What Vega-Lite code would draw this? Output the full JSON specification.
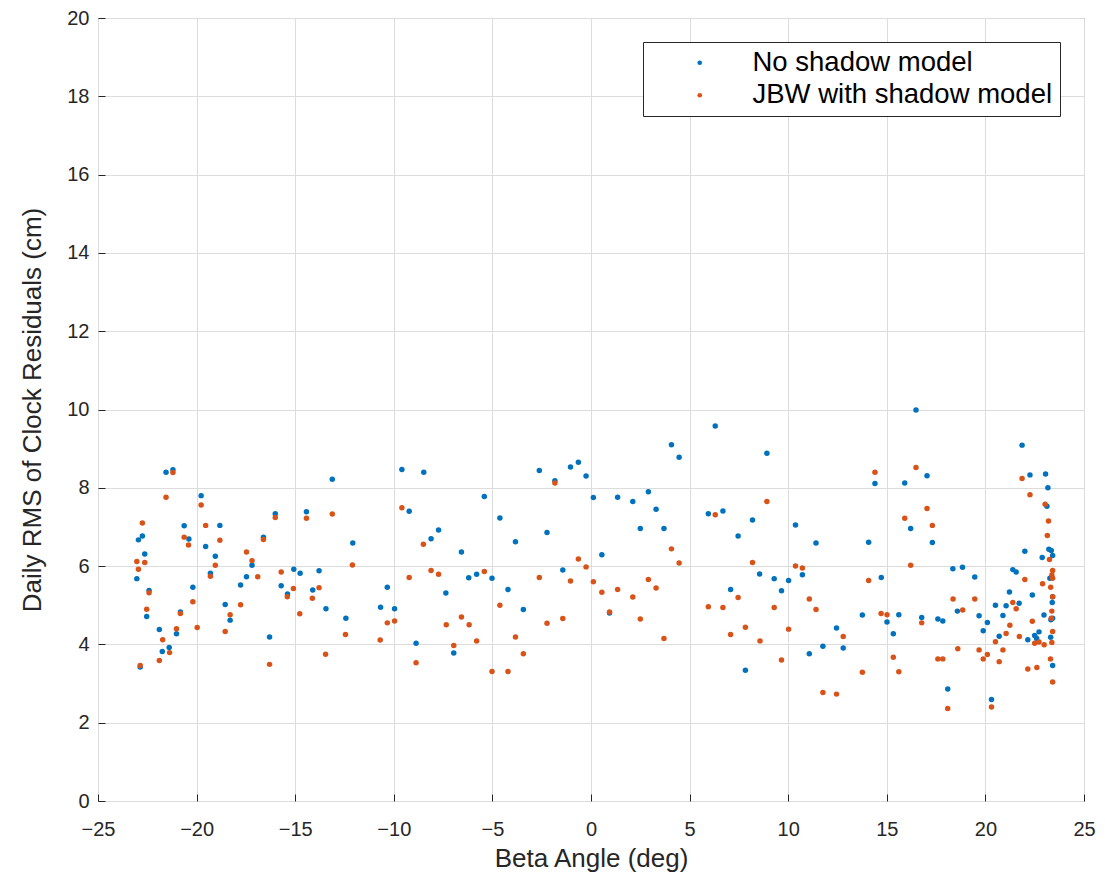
{
  "$schema": "https://vega.github.io/schema/vega-lite/v6.json",
  "width": 986,
  "height": 783,
  "autosize": {"type": "none"},
  "padding": {"left": 98, "top": 18, "right": 21, "bottom": 76},
  "background": "white",
  "config": {
    "view": {"stroke": "#262626", "strokeWidth": 1},
    "axis": {
      "grid": true,
      "gridColor": "#dcdcdc",
      "gridWidth": 1,
      "domain": false,
      "tickColor": "#262626",
      "tickSize": -7,
      "labelFlush": false,
      "labelOverlap": false,
      "labelFont": "Liberation Sans",
      "labelFontSize": 20,
      "labelColor": "#262626",
      "titleFont": "Liberation Sans",
      "titleFontSize": 26,
      "titleFontWeight": "normal",
      "titleColor": "#262626"
    },
    "legend": {
      "orient": "top-right",
      "offset": 24,
      "strokeColor": "#262626",
      "fillColor": "white",
      "padding": 7,
      "labelFont": "Liberation Sans",
      "labelFontSize": 27.5,
      "labelLimit": 0,
      "labelColor": "#000000",
      "symbolType": "circle",
      "symbolSize": 22,
      "symbolOffset": 36,
      "labelOffset": 39,
      "rowPadding": 3.5,
      "title": null
    }
  },
  "data": {
    "values": [
      {"b": -21.55, "r": 8.40, "s": "No shadow model"},
      {"b": -21.2, "r": 8.46, "s": "No shadow model"},
      {"b": -19.77, "r": 7.80, "s": "No shadow model"},
      {"b": -20.63, "r": 7.03, "s": "No shadow model"},
      {"b": -18.82, "r": 7.04, "s": "No shadow model"},
      {"b": -20.39, "r": 6.69, "s": "No shadow model"},
      {"b": -22.75, "r": 6.77, "s": "No shadow model"},
      {"b": -22.95, "r": 6.67, "s": "No shadow model"},
      {"b": -22.63, "r": 6.31, "s": "No shadow model"},
      {"b": -19.54, "r": 6.50, "s": "No shadow model"},
      {"b": -19.05, "r": 6.25, "s": "No shadow model"},
      {"b": -19.30, "r": 5.82, "s": "No shadow model"},
      {"b": -23.03, "r": 5.68, "s": "No shadow model"},
      {"b": -20.19, "r": 5.46, "s": "No shadow model"},
      {"b": -22.41, "r": 5.38, "s": "No shadow model"},
      {"b": -22.53, "r": 4.71, "s": "No shadow model"},
      {"b": -20.82, "r": 4.83, "s": "No shadow model"},
      {"b": -21.89, "r": 4.38, "s": "No shadow model"},
      {"b": -21.02, "r": 4.27, "s": "No shadow model"},
      {"b": -21.39, "r": 3.92, "s": "No shadow model"},
      {"b": -21.74, "r": 3.82, "s": "No shadow model"},
      {"b": -22.86, "r": 3.42, "s": "No shadow model"},
      {"b": -18.55, "r": 5.02, "s": "No shadow model"},
      {"b": -18.30, "r": 4.62, "s": "No shadow model"},
      {"b": -17.77, "r": 5.52, "s": "No shadow model"},
      {"b": -17.47, "r": 5.73, "s": "No shadow model"},
      {"b": -17.19, "r": 6.02, "s": "No shadow model"},
      {"b": -16.61, "r": 6.74, "s": "No shadow model"},
      {"b": -16.01, "r": 7.34, "s": "No shadow model"},
      {"b": -14.43, "r": 7.39, "s": "No shadow model"},
      {"b": -13.12, "r": 8.22, "s": "No shadow model"},
      {"b": -12.08, "r": 6.59, "s": "No shadow model"},
      {"b": -15.07, "r": 5.92, "s": "No shadow model"},
      {"b": -14.75, "r": 5.82, "s": "No shadow model"},
      {"b": -13.79, "r": 5.88, "s": "No shadow model"},
      {"b": -15.71, "r": 5.50, "s": "No shadow model"},
      {"b": -15.39, "r": 5.29, "s": "No shadow model"},
      {"b": -14.11, "r": 5.39, "s": "No shadow model"},
      {"b": -13.44, "r": 4.91, "s": "No shadow model"},
      {"b": -12.43, "r": 4.67, "s": "No shadow model"},
      {"b": -16.30, "r": 4.19, "s": "No shadow model"},
      {"b": -10.33, "r": 5.46, "s": "No shadow model"},
      {"b": -10.67, "r": 4.95, "s": "No shadow model"},
      {"b": -9.96, "r": 4.91, "s": "No shadow model"},
      {"b": -9.59, "r": 8.47, "s": "No shadow model"},
      {"b": -8.48, "r": 8.40, "s": "No shadow model"},
      {"b": -9.22, "r": 7.40, "s": "No shadow model"},
      {"b": -8.87, "r": 4.03, "s": "No shadow model"},
      {"b": -8.11, "r": 6.70, "s": "No shadow model"},
      {"b": -7.73, "r": 6.92, "s": "No shadow model"},
      {"b": -6.57, "r": 6.36, "s": "No shadow model"},
      {"b": -7.36, "r": 5.31, "s": "No shadow model"},
      {"b": -6.20, "r": 5.70, "s": "No shadow model"},
      {"b": -5.80, "r": 5.79, "s": "No shadow model"},
      {"b": -5.41, "r": 7.78, "s": "No shadow model"},
      {"b": -5.02, "r": 5.69, "s": "No shadow model"},
      {"b": -4.62, "r": 7.23, "s": "No shadow model"},
      {"b": -4.21, "r": 5.40, "s": "No shadow model"},
      {"b": -3.83, "r": 6.62, "s": "No shadow model"},
      {"b": -3.43, "r": 4.89, "s": "No shadow model"},
      {"b": -6.96, "r": 3.78, "s": "No shadow model"},
      {"b": -2.62, "r": 8.44, "s": "No shadow model"},
      {"b": -1.83, "r": 8.18, "s": "No shadow model"},
      {"b": -2.23, "r": 6.86, "s": "No shadow model"},
      {"b": -1.43, "r": 5.90, "s": "No shadow model"},
      {"b": -1.04, "r": 8.53, "s": "No shadow model"},
      {"b": -0.64, "r": 8.65, "s": "No shadow model"},
      {"b": -0.25, "r": 8.30, "s": "No shadow model"},
      {"b": 0.12, "r": 7.75, "s": "No shadow model"},
      {"b": 0.55, "r": 6.29, "s": "No shadow model"},
      {"b": 0.94, "r": 4.80, "s": "No shadow model"},
      {"b": 1.35, "r": 7.76, "s": "No shadow model"},
      {"b": 2.12, "r": 7.65, "s": "No shadow model"},
      {"b": 2.50, "r": 6.96, "s": "No shadow model"},
      {"b": 2.91, "r": 7.90, "s": "No shadow model"},
      {"b": 3.30, "r": 7.45, "s": "No shadow model"},
      {"b": 3.70, "r": 6.96, "s": "No shadow model"},
      {"b": 4.08, "r": 9.10, "s": "No shadow model"},
      {"b": 4.47, "r": 8.78, "s": "No shadow model"},
      {"b": 5.95, "r": 7.34, "s": "No shadow model"},
      {"b": 6.69, "r": 7.41, "s": "No shadow model"},
      {"b": 6.30, "r": 9.58, "s": "No shadow model"},
      {"b": 7.46, "r": 6.77, "s": "No shadow model"},
      {"b": 8.19, "r": 7.18, "s": "No shadow model"},
      {"b": 7.08, "r": 5.40, "s": "No shadow model"},
      {"b": 7.83, "r": 3.34, "s": "No shadow model"},
      {"b": 8.92, "r": 8.88, "s": "No shadow model"},
      {"b": 8.55, "r": 5.80, "s": "No shadow model"},
      {"b": 9.29, "r": 5.68, "s": "No shadow model"},
      {"b": 9.66, "r": 5.37, "s": "No shadow model"},
      {"b": 10.02, "r": 5.63, "s": "No shadow model"},
      {"b": 10.37, "r": 7.05, "s": "No shadow model"},
      {"b": 10.72, "r": 5.78, "s": "No shadow model"},
      {"b": 11.07, "r": 3.76, "s": "No shadow model"},
      {"b": 11.41, "r": 6.59, "s": "No shadow model"},
      {"b": 11.76, "r": 3.95, "s": "No shadow model"},
      {"b": 12.45, "r": 4.42, "s": "No shadow model"},
      {"b": 12.79, "r": 3.91, "s": "No shadow model"},
      {"b": 13.76, "r": 4.75, "s": "No shadow model"},
      {"b": 14.08, "r": 6.61, "s": "No shadow model"},
      {"b": 14.40, "r": 8.11, "s": "No shadow model"},
      {"b": 14.72, "r": 5.71, "s": "No shadow model"},
      {"b": 15.01, "r": 4.57, "s": "No shadow model"},
      {"b": 15.33, "r": 4.27, "s": "No shadow model"},
      {"b": 15.61, "r": 4.76, "s": "No shadow model"},
      {"b": 15.91, "r": 8.12, "s": "No shadow model"},
      {"b": 16.21, "r": 6.96, "s": "No shadow model"},
      {"b": 16.48, "r": 9.99, "s": "No shadow model"},
      {"b": 16.77, "r": 4.69, "s": "No shadow model"},
      {"b": 17.04, "r": 8.31, "s": "No shadow model"},
      {"b": 17.31, "r": 6.60, "s": "No shadow model"},
      {"b": 17.59, "r": 4.65, "s": "No shadow model"},
      {"b": 17.84, "r": 4.60, "s": "No shadow model"},
      {"b": 18.09, "r": 2.86, "s": "No shadow model"},
      {"b": 18.35, "r": 5.93, "s": "No shadow model"},
      {"b": 18.58, "r": 4.85, "s": "No shadow model"},
      {"b": 18.84, "r": 5.97, "s": "No shadow model"},
      {"b": 19.46, "r": 5.72, "s": "No shadow model"},
      {"b": 19.68, "r": 4.73, "s": "No shadow model"},
      {"b": 19.89, "r": 4.35, "s": "No shadow model"},
      {"b": 20.10, "r": 4.56, "s": "No shadow model"},
      {"b": 20.31, "r": 2.59, "s": "No shadow model"},
      {"b": 20.51, "r": 5.00, "s": "No shadow model"},
      {"b": 20.70, "r": 4.21, "s": "No shadow model"},
      {"b": 20.89, "r": 4.74, "s": "No shadow model"},
      {"b": 21.05, "r": 4.99, "s": "No shadow model"},
      {"b": 21.22, "r": 5.34, "s": "No shadow model"},
      {"b": 21.39, "r": 5.91, "s": "No shadow model"},
      {"b": 21.56, "r": 5.85, "s": "No shadow model"},
      {"b": 21.71, "r": 5.05, "s": "No shadow model"},
      {"b": 21.86, "r": 9.09, "s": "No shadow model"},
      {"b": 22.00, "r": 6.38, "s": "No shadow model"},
      {"b": 22.15, "r": 4.12, "s": "No shadow model"},
      {"b": 22.26, "r": 8.33, "s": "No shadow model"},
      {"b": 22.38, "r": 5.26, "s": "No shadow model"},
      {"b": 22.50, "r": 4.23, "s": "No shadow model"},
      {"b": 22.60, "r": 4.15, "s": "No shadow model"},
      {"b": 22.72, "r": 4.32, "s": "No shadow model"},
      {"b": 22.88, "r": 6.22, "s": "No shadow model"},
      {"b": 22.97, "r": 4.75, "s": "No shadow model"},
      {"b": 23.05, "r": 8.35, "s": "No shadow model"},
      {"b": 23.12, "r": 7.53, "s": "No shadow model"},
      {"b": 23.17, "r": 8.00, "s": "No shadow model"},
      {"b": 23.22, "r": 6.43, "s": "No shadow model"},
      {"b": 23.31, "r": 4.18, "s": "No shadow model"},
      {"b": 23.34, "r": 6.40, "s": "No shadow model"},
      {"b": 23.41, "r": 6.27, "s": "No shadow model"},
      {"b": 23.27, "r": 5.69, "s": "No shadow model"},
      {"b": 23.39, "r": 5.07, "s": "No shadow model"},
      {"b": 23.41, "r": 4.67, "s": "No shadow model"},
      {"b": 23.41, "r": 3.46, "s": "No shadow model"},
      {"b": 23.32, "r": 4.63, "s": "No shadow model"},
      {"b": 23.41, "r": 5.22, "s": "No shadow model"},
      {"b": -21.2, "r": 8.39, "s": "JBW with shadow model"},
      {"b": -21.55, "r": 7.76, "s": "JBW with shadow model"},
      {"b": -19.77, "r": 7.56, "s": "JBW with shadow model"},
      {"b": -22.75, "r": 7.10, "s": "JBW with shadow model"},
      {"b": -19.54, "r": 7.04, "s": "JBW with shadow model"},
      {"b": -18.82, "r": 6.66, "s": "JBW with shadow model"},
      {"b": -20.63, "r": 6.74, "s": "JBW with shadow model"},
      {"b": -20.41, "r": 6.54, "s": "JBW with shadow model"},
      {"b": -23.03, "r": 6.12, "s": "JBW with shadow model"},
      {"b": -22.63, "r": 6.09, "s": "JBW with shadow model"},
      {"b": -22.95, "r": 5.92, "s": "JBW with shadow model"},
      {"b": -19.05, "r": 6.02, "s": "JBW with shadow model"},
      {"b": -19.30, "r": 5.74, "s": "JBW with shadow model"},
      {"b": -22.41, "r": 5.32, "s": "JBW with shadow model"},
      {"b": -22.53, "r": 4.90, "s": "JBW with shadow model"},
      {"b": -20.19, "r": 5.09, "s": "JBW with shadow model"},
      {"b": -20.82, "r": 4.79, "s": "JBW with shadow model"},
      {"b": -21.02, "r": 4.40, "s": "JBW with shadow model"},
      {"b": -21.72, "r": 4.12, "s": "JBW with shadow model"},
      {"b": -19.97, "r": 4.43, "s": "JBW with shadow model"},
      {"b": -21.37, "r": 3.79, "s": "JBW with shadow model"},
      {"b": -21.89, "r": 3.59, "s": "JBW with shadow model"},
      {"b": -22.86, "r": 3.46, "s": "JBW with shadow model"},
      {"b": -18.55, "r": 4.33, "s": "JBW with shadow model"},
      {"b": -18.30, "r": 4.76, "s": "JBW with shadow model"},
      {"b": -17.77, "r": 5.01, "s": "JBW with shadow model"},
      {"b": -17.47, "r": 6.36, "s": "JBW with shadow model"},
      {"b": -17.19, "r": 6.14, "s": "JBW with shadow model"},
      {"b": -16.90, "r": 5.73, "s": "JBW with shadow model"},
      {"b": -16.61, "r": 6.68, "s": "JBW with shadow model"},
      {"b": -16.01, "r": 7.24, "s": "JBW with shadow model"},
      {"b": -14.43, "r": 7.22, "s": "JBW with shadow model"},
      {"b": -13.12, "r": 7.33, "s": "JBW with shadow model"},
      {"b": -12.10, "r": 6.03, "s": "JBW with shadow model"},
      {"b": -15.71, "r": 5.85, "s": "JBW with shadow model"},
      {"b": -15.09, "r": 5.43, "s": "JBW with shadow model"},
      {"b": -13.79, "r": 5.45, "s": "JBW with shadow model"},
      {"b": -15.40, "r": 5.22, "s": "JBW with shadow model"},
      {"b": -14.13, "r": 5.18, "s": "JBW with shadow model"},
      {"b": -14.77, "r": 4.78, "s": "JBW with shadow model"},
      {"b": -12.45, "r": 4.25, "s": "JBW with shadow model"},
      {"b": -16.30, "r": 3.49, "s": "JBW with shadow model"},
      {"b": -13.46, "r": 3.75, "s": "JBW with shadow model"},
      {"b": -10.33, "r": 4.55, "s": "JBW with shadow model"},
      {"b": -9.96, "r": 4.60, "s": "JBW with shadow model"},
      {"b": -10.69, "r": 4.11, "s": "JBW with shadow model"},
      {"b": -9.59, "r": 7.49, "s": "JBW with shadow model"},
      {"b": -8.50, "r": 6.56, "s": "JBW with shadow model"},
      {"b": -9.22, "r": 5.71, "s": "JBW with shadow model"},
      {"b": -8.87, "r": 3.53, "s": "JBW with shadow model"},
      {"b": -8.11, "r": 5.89, "s": "JBW with shadow model"},
      {"b": -7.73, "r": 5.79, "s": "JBW with shadow model"},
      {"b": -7.34, "r": 4.50, "s": "JBW with shadow model"},
      {"b": -6.96, "r": 3.97, "s": "JBW with shadow model"},
      {"b": -6.57, "r": 4.70, "s": "JBW with shadow model"},
      {"b": -6.18, "r": 4.50, "s": "JBW with shadow model"},
      {"b": -5.80, "r": 4.09, "s": "JBW with shadow model"},
      {"b": -5.41, "r": 5.86, "s": "JBW with shadow model"},
      {"b": -5.02, "r": 3.31, "s": "JBW with shadow model"},
      {"b": -4.62, "r": 5.00, "s": "JBW with shadow model"},
      {"b": -4.21, "r": 3.31, "s": "JBW with shadow model"},
      {"b": -3.83, "r": 4.19, "s": "JBW with shadow model"},
      {"b": -3.43, "r": 3.76, "s": "JBW with shadow model"},
      {"b": -2.62, "r": 5.71, "s": "JBW with shadow model"},
      {"b": -2.23, "r": 4.54, "s": "JBW with shadow model"},
      {"b": -1.83, "r": 8.12, "s": "JBW with shadow model"},
      {"b": -1.43, "r": 4.66, "s": "JBW with shadow model"},
      {"b": -1.04, "r": 5.62, "s": "JBW with shadow model"},
      {"b": -0.64, "r": 6.18, "s": "JBW with shadow model"},
      {"b": -0.25, "r": 5.98, "s": "JBW with shadow model"},
      {"b": 0.12, "r": 5.60, "s": "JBW with shadow model"},
      {"b": 0.55, "r": 5.33, "s": "JBW with shadow model"},
      {"b": 0.94, "r": 4.83, "s": "JBW with shadow model"},
      {"b": 1.35, "r": 5.40, "s": "JBW with shadow model"},
      {"b": 2.12, "r": 5.21, "s": "JBW with shadow model"},
      {"b": 2.50, "r": 4.65, "s": "JBW with shadow model"},
      {"b": 2.91, "r": 5.66, "s": "JBW with shadow model"},
      {"b": 3.30, "r": 5.44, "s": "JBW with shadow model"},
      {"b": 3.70, "r": 4.15, "s": "JBW with shadow model"},
      {"b": 4.08, "r": 6.44, "s": "JBW with shadow model"},
      {"b": 4.47, "r": 6.08, "s": "JBW with shadow model"},
      {"b": 5.95, "r": 4.96, "s": "JBW with shadow model"},
      {"b": 6.30, "r": 7.31, "s": "JBW with shadow model"},
      {"b": 6.69, "r": 4.94, "s": "JBW with shadow model"},
      {"b": 7.08, "r": 4.25, "s": "JBW with shadow model"},
      {"b": 7.46, "r": 5.20, "s": "JBW with shadow model"},
      {"b": 7.83, "r": 4.44, "s": "JBW with shadow model"},
      {"b": 8.19, "r": 6.09, "s": "JBW with shadow model"},
      {"b": 8.57, "r": 4.09, "s": "JBW with shadow model"},
      {"b": 8.92, "r": 7.65, "s": "JBW with shadow model"},
      {"b": 9.29, "r": 4.94, "s": "JBW with shadow model"},
      {"b": 9.66, "r": 3.60, "s": "JBW with shadow model"},
      {"b": 10.02, "r": 4.39, "s": "JBW with shadow model"},
      {"b": 10.37, "r": 6.00, "s": "JBW with shadow model"},
      {"b": 10.72, "r": 5.95, "s": "JBW with shadow model"},
      {"b": 11.07, "r": 5.16, "s": "JBW with shadow model"},
      {"b": 11.41, "r": 4.89, "s": "JBW with shadow model"},
      {"b": 11.76, "r": 2.77, "s": "JBW with shadow model"},
      {"b": 12.45, "r": 2.73, "s": "JBW with shadow model"},
      {"b": 12.79, "r": 4.20, "s": "JBW with shadow model"},
      {"b": 13.76, "r": 3.29, "s": "JBW with shadow model"},
      {"b": 14.08, "r": 5.63, "s": "JBW with shadow model"},
      {"b": 14.40, "r": 8.40, "s": "JBW with shadow model"},
      {"b": 14.71, "r": 4.79, "s": "JBW with shadow model"},
      {"b": 15.01, "r": 4.76, "s": "JBW with shadow model"},
      {"b": 15.33, "r": 3.67, "s": "JBW with shadow model"},
      {"b": 15.61, "r": 3.30, "s": "JBW with shadow model"},
      {"b": 15.91, "r": 7.22, "s": "JBW with shadow model"},
      {"b": 16.21, "r": 6.02, "s": "JBW with shadow model"},
      {"b": 16.48, "r": 8.52, "s": "JBW with shadow model"},
      {"b": 16.77, "r": 4.55, "s": "JBW with shadow model"},
      {"b": 17.04, "r": 7.47, "s": "JBW with shadow model"},
      {"b": 17.31, "r": 7.04, "s": "JBW with shadow model"},
      {"b": 17.59, "r": 3.63, "s": "JBW with shadow model"},
      {"b": 17.84, "r": 3.63, "s": "JBW with shadow model"},
      {"b": 18.09, "r": 2.36, "s": "JBW with shadow model"},
      {"b": 18.36, "r": 5.16, "s": "JBW with shadow model"},
      {"b": 18.60, "r": 3.89, "s": "JBW with shadow model"},
      {"b": 18.85, "r": 4.88, "s": "JBW with shadow model"},
      {"b": 19.46, "r": 5.16, "s": "JBW with shadow model"},
      {"b": 19.68, "r": 3.86, "s": "JBW with shadow model"},
      {"b": 19.89, "r": 3.63, "s": "JBW with shadow model"},
      {"b": 20.10, "r": 3.74, "s": "JBW with shadow model"},
      {"b": 20.31, "r": 2.40, "s": "JBW with shadow model"},
      {"b": 20.51, "r": 4.07, "s": "JBW with shadow model"},
      {"b": 20.70, "r": 3.56, "s": "JBW with shadow model"},
      {"b": 20.89, "r": 3.86, "s": "JBW with shadow model"},
      {"b": 21.05, "r": 4.28, "s": "JBW with shadow model"},
      {"b": 21.24, "r": 4.49, "s": "JBW with shadow model"},
      {"b": 21.39, "r": 5.07, "s": "JBW with shadow model"},
      {"b": 21.56, "r": 4.91, "s": "JBW with shadow model"},
      {"b": 21.72, "r": 4.20, "s": "JBW with shadow model"},
      {"b": 21.86, "r": 8.24, "s": "JBW with shadow model"},
      {"b": 22.00, "r": 5.66, "s": "JBW with shadow model"},
      {"b": 22.15, "r": 3.37, "s": "JBW with shadow model"},
      {"b": 22.26, "r": 7.82, "s": "JBW with shadow model"},
      {"b": 22.38, "r": 4.59, "s": "JBW with shadow model"},
      {"b": 22.50, "r": 4.03, "s": "JBW with shadow model"},
      {"b": 22.61, "r": 3.41, "s": "JBW with shadow model"},
      {"b": 22.72, "r": 4.06, "s": "JBW with shadow model"},
      {"b": 22.90, "r": 5.55, "s": "JBW with shadow model"},
      {"b": 22.98, "r": 3.99, "s": "JBW with shadow model"},
      {"b": 23.03, "r": 7.58, "s": "JBW with shadow model"},
      {"b": 23.14, "r": 6.78, "s": "JBW with shadow model"},
      {"b": 23.20, "r": 7.15, "s": "JBW with shadow model"},
      {"b": 23.25, "r": 6.17, "s": "JBW with shadow model"},
      {"b": 23.30, "r": 3.63, "s": "JBW with shadow model"},
      {"b": 23.31, "r": 5.46, "s": "JBW with shadow model"},
      {"b": 23.34, "r": 4.67, "s": "JBW with shadow model"},
      {"b": 23.37, "r": 5.77, "s": "JBW with shadow model"},
      {"b": 23.41, "r": 5.89, "s": "JBW with shadow model"},
      {"b": 23.41, "r": 5.69, "s": "JBW with shadow model"},
      {"b": 23.41, "r": 5.22, "s": "JBW with shadow model"},
      {"b": 23.37, "r": 4.85, "s": "JBW with shadow model"},
      {"b": 23.41, "r": 4.33, "s": "JBW with shadow model"},
      {"b": 23.37, "r": 4.05, "s": "JBW with shadow model"},
      {"b": 23.41, "r": 3.04, "s": "JBW with shadow model"}
    ]
  },
  "mark": {"type": "point", "filled": true, "opacity": 1, "size": 30, "shape": "circle", "strokeWidth": 0},
  "encoding": {
    "x": {
      "field": "b",
      "type": "quantitative",
      "title": "Beta Angle (deg)",
      "scale": {"domain": [-25, 25], "nice": false, "zero": false},
      "axis": {"values": [-25, -20, -15, -10, -5, 0, 5, 10, 15, 20, 25], "labelPadding": 25, "titlePadding": 6}
    },
    "y": {
      "field": "r",
      "type": "quantitative",
      "title": "Daily RMS of Clock Residuals (cm)",
      "scale": {"domain": [0, 20], "nice": false},
      "axis": {"values": [0, 2, 4, 6, 8, 10, 12, 14, 16, 18, 20], "labelPadding": 16, "titlePadding": 21}
    },
    "color": {
      "field": "s",
      "type": "nominal",
      "scale": {"domain": ["No shadow model", "JBW with shadow model"], "range": ["#0072BD", "#D95319"]},
      "legend": {"title": null}
    }
  }
}
